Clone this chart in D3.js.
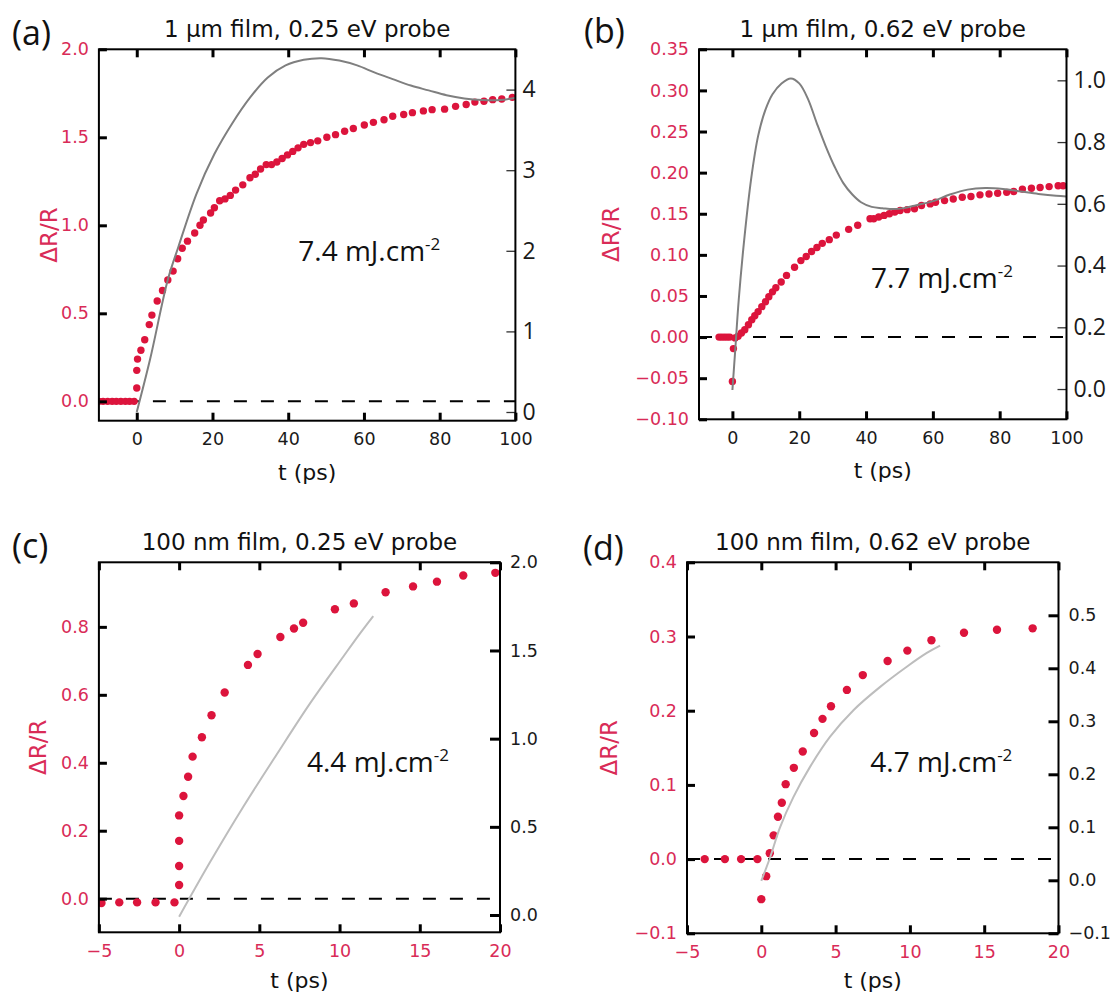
<!DOCTYPE html>
<html><head><meta charset="utf-8">
<script src="https://cdn.jsdelivr.net/npm/d3@7"></script>
<style>body{margin:0;background:#fff}svg{display:block}</style>
</head><body>
<script>
// ---------- DATA ----------
// (a) 1 µm film, 0.25 eV probe
const a_dotT = [-10,-8.9,-7.7,-6.5,-5.4,-4.2,-3,-1.9,-0.7,0,0,0.2,1.1,2.1,3.3,4.0,5.4,6.8,8.2,9.6,10.8,12,13.4,15.3,16.7,17.6,19.5,20.5,21.9,23.3,24.7,26.1,28,29.9,31.3,32.7,34.2,35.6,37,38.4,39.8,41.2,42.6,44.1,45.9,47.8,50.2,52.5,54.9,57.2,60.1,62.5,65.3,67.6,70.5,72.8,75.7,78,81.3,84.2,87,89.3,91.7,94,96.4,99.2];
const a_dotV = [0,0,0,0,0,0,0,0,0,0.076,0.176,0.24,0.29,0.35,0.436,0.49,0.57,0.63,0.69,0.74,0.81,0.87,0.91,0.956,1.0,1.03,1.07,1.10,1.14,1.15,1.17,1.20,1.23,1.27,1.29,1.32,1.345,1.345,1.36,1.38,1.40,1.42,1.44,1.46,1.47,1.48,1.50,1.515,1.534,1.55,1.57,1.585,1.60,1.62,1.63,1.64,1.65,1.657,1.66,1.676,1.686,1.70,1.705,1.714,1.718,1.727];
const a_fitT = [0,3.5,8.2,11,15.8,20.5,25.2,29.9,34.6,39.3,44.1,48.8,53.5,58.2,62.9,67.6,72.4,77.1,81.8,86.5,91.2,95.9,100];
const a_fitV = [0,0.65,1.64,2.05,2.71,3.2,3.58,3.9,4.15,4.30,4.37,4.39,4.36,4.30,4.21,4.13,4.05,3.99,3.93,3.89,3.87,3.87,3.90];
const a_xTicks = [0,20,40,60,80,100];
const a_yLTicks = [0,0.5,1,1.5,2];
const a_yRTicks = [0,1,2,3,4];

// (b) 1 µm film, 0.62 eV probe
const b_dotT = [-4,-3.2,-2.4,-1.6,-0.8,0,0.3,0.8,1.7,2.7,3.7,4.8,5.8,6.7,7.7,8.8,9.9,10.9,12,13,14.6,16.2,18.6,20.5,22.1,23.7,25.3,26.9,29,31.1,34.8,37.5,41.2,42.3,43.8,45.4,47,48.6,50.2,52.3,54.5,56.6,59.2,60.8,63.5,66.1,68.8,71.4,74.1,76.8,79.4,82.1,84.2,86.8,89.5,92.1,94.8,97.5,99];
const b_dotV = [0,0,0,0,0,-0.054,-0.014,-0.001,0.001,0.005,0.009,0.015,0.021,0.026,0.031,0.037,0.043,0.049,0.055,0.060,0.067,0.075,0.085,0.093,0.098,0.104,0.109,0.114,0.1185,0.124,0.131,0.136,0.144,0.144,0.146,0.148,0.150,0.152,0.154,0.155,0.156,0.160,0.162,0.164,0.166,0.168,0.170,0.171,0.173,0.174,0.175,0.176,0.177,0.180,0.181,0.182,0.183,0.184,0.184];
const b_fitT = [0,0.85,1.9,3.5,5.6,7.7,9.9,12,14.7,17.5,20,22.6,25.3,27.9,30.6,33.2,35.9,38.5,41.7,44.9,48.1,51.3,54.5,59.8,65.1,70.4,75.7,81,86.3,91.6,96.9,100];
const b_fitV = [-0.003,0.127,0.29,0.48,0.68,0.82,0.905,0.955,0.99,1.006,0.99,0.94,0.86,0.787,0.72,0.667,0.63,0.605,0.59,0.586,0.583,0.586,0.594,0.608,0.63,0.646,0.651,0.648,0.64,0.632,0.626,0.624];
const b_xTicks = [0,20,40,60,80,100];
const b_yLTicks = [-0.1,-0.05,0,0.05,0.1,0.15,0.2,0.25,0.3,0.35];
const b_yRTicks = [0,0.2,0.4,0.6,0.8,1.0];

// (c) 100 nm film, 0.25 eV probe
const c_dotT = [-4.84,-3.73,-2.62,-1.47,-0.29,0,0,0,0,0.27,0.56,0.84,1.42,2.02,2.84,4.29,4.89,6.31,7.16,7.73,9.71,10.89,12.87,14.58,16.07,17.71,19.71];
const c_dotV = [-0.013,-0.011,-0.011,-0.011,-0.011,0.04,0.096,0.17,0.245,0.302,0.359,0.418,0.475,0.54,0.607,0.688,0.72,0.77,0.795,0.812,0.852,0.869,0.902,0.919,0.933,0.951,0.959];
const c_fitT = [0,1.93,4.0,6.08,8.16,10.24,11.28,12.1];
const c_fitV = [-0.01,0.30,0.614,0.91,1.20,1.466,1.597,1.695];
const c_xTicks = [-5,0,5,10,15,20];
const c_yLTicks = [0,0.2,0.4,0.6,0.8];
const c_yRTicks = [0,0.5,1,1.5,2];

// (d) 100 nm film, 0.62 eV probe
const d_dotT = [-3.81,-2.45,-1.36,-0.26,0,0.33,0.57,0.83,1.12,1.38,1.64,2.19,2.79,3.55,4.12,4.69,5.76,6.83,8.5,9.83,11.45,13.64,15.86,18.26,20.3];
const d_dotV = [0,0,0,0,-0.054,-0.023,0.008,0.032,0.057,0.076,0.101,0.123,0.145,0.17,0.189,0.206,0.228,0.248,0.267,0.281,0.295,0.305,0.309,0.311,0.311];
const d_fitT = [0,0.59,1.26,2.16,3.28,4.63,6.2,8.0,9.79,11.14,12.03];
const d_fitV = [-0.001,0.043,0.1,0.157,0.214,0.271,0.321,0.365,0.403,0.429,0.443];
const d_xTicks = [-5,0,5,10,15,20];
const d_yLTicks = [-0.1,0,0.1,0.2,0.3,0.4];
const d_yRTicks = [-0.1,0,0.1,0.2,0.3,0.4,0.5];

const titles = ["1 µm film, 0.25 eV probe","1 µm film, 0.62 eV probe","100 nm film, 0.25 eV probe","100 nm film, 0.62 eV probe"];
const panelLabels = ["(a)","(b)","(c)","(d)"];
const fluences = ["7.4","7.7","4.4","4.7"];

// ---------- LAYOUT ----------
const W = 1116, H = 995;
const PINK = "#d92b57", DOT = "#dc143c", DJ = "DejaVu Sans", OS = "Open Sans";
const svg = d3.select("body").append("svg").attr("width", W).attr("height", H);

const panels = [
 {box:[98.9,49.3,515.4,420.7], xDom:[-10,100], yL:[-0.11,2.0], yR:[-0.108,4.5],
  dotT:a_dotT, dotV:a_dotV, fitT:a_fitT, fitV:a_fitV, xT:a_xTicks, yLT:a_yLTicks, yRT:a_yRTicks,
  fL:".1f", fR:"d", fitCol:"#7f7f7f", r:3.7, xCol:"#1a1a1a", rightThin:true,
  ann:[42.66,0.795], ylx:-42, lab:[12,45], xlab:59},
 {box:[699,49.3,1066.5,419.3], xDom:[-10,100], yL:[-0.10,0.35], yR:[-0.098,1.1005],
  dotT:b_dotT, dotV:b_dotV, fitT:b_fitT, fitV:b_fitV, xT:b_xTicks, yLT:b_yLTicks, yRT:b_yRTicks,
  fL:".2f", fR:".1f", fitCol:"#7f7f7f", r:3.7, xCol:"#1a1a1a", rightThin:true,
  ann:[41.45,0.0595], ylx:-80.5, lab:[584,43], xlab:59},
 {box:[98.9,562.3,500,932.3], xDom:[-5,20], yL:[-0.099,0.99], yR:[-0.098,2.0],
  dotT:c_dotT, dotV:c_dotV, fitT:c_fitT, fitV:c_fitV, xT:c_xTicks, yLT:c_yLTicks, yRT:c_yRTicks,
  fL:".1f", fR:".1f", fitCol:"#bdbdbd", r:4.2, xCol:PINK, rightThin:false,
  ann:[7.97,0.374], ylx:-52.5, lab:[12,558], xlab:56},
 {box:[687,562.3,1058.5,933.3], xDom:[-5,20], yL:[-0.1,0.4], yR:[-0.1,0.6],
  dotT:d_dotT, dotV:d_dotV, fitT:d_fitT, fitV:d_fitV, xT:d_xTicks, yLT:d_yLTicks, yRT:d_yRTicks,
  fL:".1f", fR:".1f", fitCol:"#bdbdbd", r:4.2, xCol:PINK, rightThin:false,
  ann:[7.34,0.118], ylx:-70, lab:[583,560], xlab:55}
];

panels.forEach((p, i) => {
  const [x0,y0,x1,y1] = p.box;
  const x = d3.scaleLinear().domain(p.xDom).range([x0,x1]);
  const yL = d3.scaleLinear().domain(p.yL).range([y1,y0]);
  const yR = d3.scaleLinear().domain(p.yR).range([y1,y0]);
  const g = svg.append("g");
  const cid = "clip"+i;
  g.append("clipPath").attr("id",cid).append("rect")
    .attr("x",x0).attr("y",y0).attr("width",x1-x0).attr("height",y1-y0);
  const pg = g.append("g").attr("clip-path",`url(#${cid})`);

  // zero dashed line
  pg.append("line").attr("x1",x0).attr("x2",x1).attr("y1",yL(0)).attr("y2",yL(0))
    .attr("stroke","#000").attr("stroke-width",2).attr("stroke-dasharray","13,14");

  // dots
  const pts = p.dotT.map((t,k)=>[t,p.dotV[k]]);
  pg.selectAll("circle").data(pts).enter().append("circle")
    .attr("cx",d=>x(d[0])).attr("cy",d=>yL(d[1])).attr("r",p.r).attr("fill",DOT);

  // fit curve (right axis)
  const fit = p.fitT.map((t,k)=>[t,p.fitV[k]]);
  pg.append("path").datum(fit)
    .attr("d", d3.line().x(d=>x(d[0])).y(d=>yR(d[1])).curve(d3.curveCatmullRom.alpha(0.5)))
    .attr("fill","none").attr("stroke",p.fitCol).attr("stroke-width",2);

  // axes
  const styleAxis = (sel, col, font, size, sw) => {
    sel.select(".domain").remove();
    sel.selectAll(".tick line").attr("stroke","#000").attr("stroke-width",sw);
    sel.selectAll(".tick text").attr("fill",col).attr("font-family",font).attr("font-size",size);
    sel.attr("font-family",font).attr("font-size",size);
  };
  const gl = g.append("g").attr("transform",`translate(${x0},0)`)
    .call(d3.axisLeft(yL).tickValues(p.yLT).tickFormat(d3.format(p.fL)).tickSizeInner(-8).tickSizeOuter(0).tickPadding(10));
  styleAxis(gl, PINK, DJ, 17.5, 3);

  const gr = g.append("g").attr("transform",`translate(${x1},0)`)
    .call(d3.axisRight(yR).tickValues(p.yRT).tickFormat(d3.format(p.fR)).tickSizeInner(p.rightThin?-9:-10).tickSizeOuter(0).tickPadding(p.rightThin?7:10));
  if (p.rightThin) { styleAxis(gr, "#1a1a1a", OS, 23, 1.3); gr.selectAll(".tick line").attr("stroke","#333"); }
  else styleAxis(gr, "#1a1a1a", DJ, 17.5, 3);

  const gb = g.append("g").attr("transform",`translate(0,${y1})`)
    .call(d3.axisBottom(x).tickValues(p.xT).tickFormat(d3.format("d")).tickSizeInner(-8).tickSizeOuter(0).tickPadding(12));
  styleAxis(gb, p.xCol, DJ, 17.5, 3);

  const gt = g.append("g").attr("transform",`translate(0,${y0})`)
    .call(d3.axisTop(x).tickValues(p.xT).tickFormat("").tickSizeInner(-8).tickSizeOuter(0));
  styleAxis(gt, "#000", DJ, 17.5, 3);

  // frame
  g.append("rect").attr("x",x0).attr("y",y0).attr("width",x1-x0).attr("height",y1-y0)
    .attr("fill","none").attr("stroke","#000").attr("stroke-width",2);

  // title
  g.append("text").attr("x",(x0+x1)/2).attr("y",y0-12.5).attr("text-anchor","middle")
    .attr("font-family",DJ).attr("font-size",23).attr("fill","#111").text(titles[i]);
  // x label
  g.append("text").attr("x",(x0+x1)/2).attr("y",y1+p.xlab).attr("text-anchor","middle")
    .attr("font-family",DJ).attr("font-size",22).attr("fill","#111").text("t (ps)");
  // y label
  g.append("text").attr("transform",`translate(${x0+p.ylx},${(y0+y1)/2}) rotate(-90)`)
    .attr("text-anchor","middle").attr("font-family",DJ).attr("font-size",23).attr("fill",PINK).text("ΔR/R");
  // panel label
  g.append("text").attr("x",p.lab[0]).attr("y",p.lab[1]).attr("font-family",OS).attr("font-size",34)
    .attr("fill","#111").text(panelLabels[i]);
  // fluence annotation
  const an = g.append("text").attr("x",x(p.ann[0])).attr("y",yL(p.ann[1]))
    .attr("font-family",OS).attr("font-size",28).attr("fill","#111");
  an.append("tspan").text(fluences[i]+" mJ.cm");
  an.append("tspan").attr("font-size",17).attr("dy",-11).text("-2");
});
</script>
</body></html>
